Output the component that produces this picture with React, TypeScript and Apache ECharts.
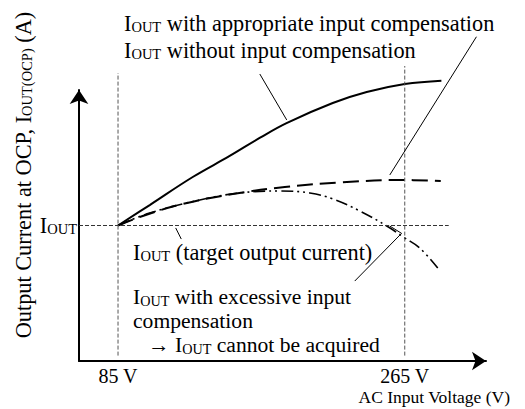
import React, { useEffect, useRef } from "react";
import * as echarts from "echarts";

// AC input voltage (V) vs output current at OCP (relative to IOUT = 1)
const withoutCompX = [85, 104.9, 131.9, 155.1, 173.9, 190.8, 219.8, 241.1, 265, 288];
const withoutCompY = [1.0, 1.151, 1.358, 1.513, 1.646, 1.756, 1.904, 1.985, 2.044, 2.069];

const appropriateX = [85, 100.5, 125.6, 157.0, 189.7, 224.2, 261.9, 287.6];
const appropriateY = [1.0, 1.07, 1.159, 1.232, 1.284, 1.317, 1.336, 1.328];

const excessiveX = [85, 104.9, 136.3, 161.4, 186.5, 205.4, 219.8, 236.8, 253.7, 265, 274.4, 285.7];
const excessiveY = [1.0, 1.092, 1.188, 1.24, 1.255, 1.24, 1.196, 1.107, 0.996, 0.908, 0.834, 0.686];

const xTickValues = [85, 265];
const targetLevel = 1;
const targetLineEnd = 292.6;
const guideTops = [2.125, 2.177];

// leader lines (data coordinates)
const leaderWithout = [[174, 2.118], [190.9, 1.779]];
const leaderAppropriate = [[310, 2.393], [255.6, 1.373]];
const leaderTarget = [[121.2, 0.982], [124.7, 0.9]];
const leaderExcessive = [[233.6, 0.59], [263.0, 0.942], [255.6, 0.996]];

const FAMILY = "Liberation Serif";
const FS = 22.3;
const SUB = 14.5;

function makeRich(size: number, sub: number, lh?: number) {
  const n: any = { fontSize: size, fontFamily: FAMILY, fill: "#000", color: "#000", verticalAlign: "bottom" };
  const s: any = { fontSize: sub, fontFamily: FAMILY, fill: "#000", color: "#000", verticalAlign: "bottom" };
  const ind: any = { ...n, padding: [0, 0, 0, 15] };
  if (lh) {
    n.lineHeight = lh;
    ind.lineHeight = lh;
    s.lineHeight = lh - 8.3;
  }
  return { n, s, ind };
}

function xy(xs: number[], ys: number[]) {
  return xs.map((x, i) => [x, ys[i]]);
}

// text is written as {n|...}{s|...} tokens: n = normal, s = subscript
function textEl(text: string, x: number, y: number, opts: any = {}) {
  const size = opts.fontSize || FS;
  return {
    type: "text",
    x,
    y,
    rotation: opts.rotation || 0,
    style: {
      text,
      fontSize: size,
      fontFamily: FAMILY,
      fill: "#000",
      align: opts.align || "left",
      verticalAlign: "middle",
      rich: makeRich(size, opts.sub || SUB, opts.lineHeight),
    },
  };
}

export default function App() {
  const ref = useRef<HTMLDivElement>(null);
  useEffect(() => {
    if (!ref.current) return;
    const chart = echarts.init(ref.current, null, { renderer: "svg" });
    const leader = (data: number[][]) => ({
      type: "line",
      data,
      clip: false,
      showSymbol: false,
      symbol: "none",
      lineStyle: { color: "#000", width: 1 },
      silent: true,
    });
    const option: any = {
      animation: false,
      textStyle: { fontFamily: FAMILY },
      grid: { left: 79, top: 90, width: 407, bottom: 48 },
      xAxis: {
        type: "value",
        min: 60.5,
        max: 316,
        splitLine: { show: false },
        axisTick: { show: false },
        axisLine: {
          lineStyle: { color: "#000", width: 2 },
          symbol: ["none", "arrow"],
          symbolSize: [14, 14],
        },
        axisLabel: {
          customValues: xTickValues,
          formatter: (v: number) => `${v} V`,
          fontSize: 20,
          fontFamily: FAMILY,
          color: "#000",
          margin: 5,
        },
      },
      yAxis: {
        type: "value",
        min: 0,
        max: 2,
        splitLine: { show: false },
        axisTick: { show: false },
        axisLine: {
          lineStyle: { color: "#000", width: 2 },
          symbol: ["none", "arrow"],
          symbolSize: [14, 14],
        },
        axisLabel: {
          customValues: [targetLevel],
          formatter: () => "{n|I}{s|OUT}",
          fontSize: FS,
          fontFamily: FAMILY,
          color: "#000",
          margin: 2,
          rich: makeRich(FS, SUB),
        },
      },
      series: [
        {
          type: "line",
          data: xy(withoutCompX, withoutCompY),
          smooth: 0.4,
          clip: false,
          showSymbol: false,
          symbol: "none",
          lineStyle: { color: "#000", width: 2 },
        },
        {
          type: "line",
          data: xy(appropriateX, appropriateY),
          smooth: 0.4,
          clip: false,
          showSymbol: false,
          symbol: "none",
          lineStyle: { color: "#000", width: 2, type: [16, 7] },
        },
        {
          type: "line",
          data: xy(excessiveX, excessiveY),
          smooth: 0.4,
          clip: false,
          showSymbol: false,
          symbol: "none",
          lineStyle: { color: "#000", width: 1.6, type: [12, 4, 2, 4, 2, 4] },
        },
        {
          type: "line",
          data: [[60.5, targetLevel], [targetLineEnd, targetLevel]],
          clip: false,
          showSymbol: false,
          symbol: "none",
          lineStyle: { color: "#333", width: 1, type: [4, 2] },
        },
        {
          type: "line",
          data: [[xTickValues[0], 0.04], [xTickValues[0], guideTops[0]]],
          clip: false,
          showSymbol: false,
          symbol: "none",
          lineStyle: { color: "#555", width: 1, type: [4, 2] },
        },
        {
          type: "line",
          data: [[xTickValues[1], 0.04], [xTickValues[1], guideTops[1]]],
          clip: false,
          showSymbol: false,
          symbol: "none",
          lineStyle: { color: "#555", width: 1, type: [4, 2] },
        },
        leader(leaderWithout),
        leader(leaderAppropriate),
        leader(leaderTarget),
        leader(leaderExcessive),
      ],
      graphic: [
        textEl("{n|I}{s|OUT}{n| with appropriate input compensation}", 124, 23),
        textEl("{n|I}{s|OUT}{n| without input compensation}", 124, 50),
        textEl("{n|I}{s|OUT}{n| (target output current)}", 133, 252),
        textEl(
          "{n|I}{s|OUT}{n| with excessive input}\n{n|compensation}\n{ind|\u2192 I}{s|OUT}{n| cannot be acquired}",
          133,
          320,
          { lineHeight: 24, fontSize: 21.6, sub: 14.2 }
        ),
        textEl("{n|AC Input Voltage (V)}", 510, 397, { align: "right", fontSize: 17.5 }),
        textEl("{n|Output Current at OCP, I}{s|OUT(OCP)}{n| (A)}", 23, 175, {
          align: "center",
          rotation: Math.PI / 2,
        }),
      ],
    };
    chart.setOption(option);
    return () => chart.dispose();
  }, []);
  return (
    <div
      ref={ref}
      style={{ position: "absolute", left: 0, top: 0, width: 525, height: 409 }}
    />
  );
}
